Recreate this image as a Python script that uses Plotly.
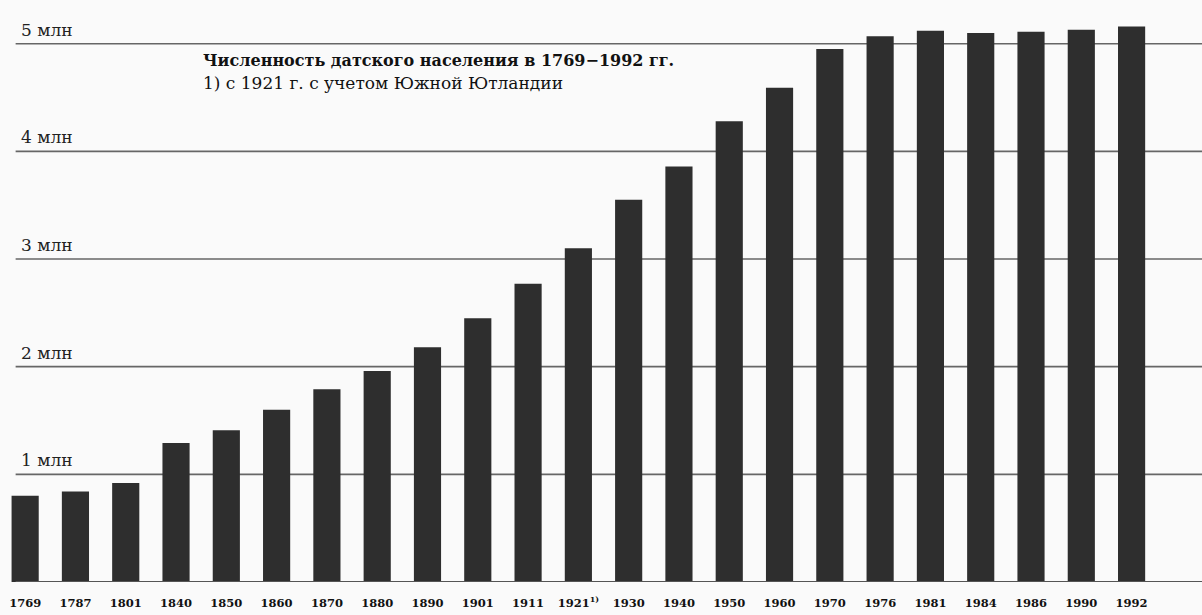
import plotly.graph_objects as go

years = ["1769", "1787", "1801", "1840", "1850", "1860", "1870", "1880", "1890",
         "1901", "1911", "1921", "1930", "1940", "1950", "1960", "1970", "1976",
         "1981", "1984", "1986", "1990", "1992"]
population_mln = [0.80, 0.84, 0.92, 1.29, 1.41, 1.60, 1.79, 1.96, 2.18,
                  2.45, 2.77, 3.10, 3.55, 3.86, 4.28, 4.59, 4.95, 5.07,
                  5.12, 5.10, 5.11, 5.13, 5.16]
tick_labels = [y if y != "1921" else "1921<sup>1)</sup>" for y in years]
grid_values = [1, 2, 3, 4, 5]
grid_labels = ["1 млн", "2 млн", "3 млн", "4 млн", "5 млн"]

title = "Численность датского населения в 1769−1992 гг."
subtitle = "1) с 1921 г. с учетом Южной Ютландии"

fig = go.Figure()
fig.add_trace(go.Bar(x=years, y=population_mln, marker_color="#2e2e2e",
                     marker_line_width=0))

for v, lab in zip(grid_values, grid_labels):
    fig.add_shape(type="line", xref="paper", yref="y", x0=0.013, x1=1, y0=v, y1=v,
                  line=dict(color="#666666", width=1.6), layer="below")
    fig.add_annotation(xref="paper", yref="y", x=0.016, y=v, text=lab,
                       showarrow=False, xanchor="left", yanchor="bottom", yshift=2,
                       font=dict(family="DejaVu Serif", size=17, color="#222"))

fig.add_shape(type="line", xref="paper", yref="y", x0=0.013, x1=1, y0=0, y1=0,
              line=dict(color="#555555", width=1.8))

plot_top, plot_h = 6, 576
fig.add_annotation(xref="paper", yref="paper", x=201/1202, y=1 - (60 - plot_top) / plot_h,
                   text="<b>" + title + "</b>", showarrow=False, xanchor="left",
                   yanchor="middle",
                   font=dict(family="DejaVu Serif", size=16, color="#111"))
fig.add_annotation(xref="paper", yref="paper", x=201/1202, y=1 - (83 - plot_top) / plot_h,
                   text=subtitle, showarrow=False, xanchor="left", yanchor="middle",
                   font=dict(family="DejaVu Serif", size=17, color="#111"))

fig.update_layout(
    width=1202, height=615,
    margin=dict(l=0, r=0, t=plot_top, b=615 - plot_top - plot_h),
    paper_bgcolor="#fafafa", plot_bgcolor="#fafafa",
    bargap=0.46, showlegend=False,
    xaxis=dict(type="category", range=[-0.5, 23.4], tickmode="array",
               tickvals=years, ticktext=tick_labels, showgrid=False,
               showline=False, zeroline=False, ticks="outside", ticklen=10,
               tickcolor="rgba(0,0,0,0)",
               tickfont=dict(family="DejaVu Serif", size=11.5, color="#111",
                             weight="bold")),
    yaxis=dict(range=[0, 5.35], showgrid=False, zeroline=False,
               showticklabels=False, showline=False),
)

fig.write_html("out.html", config={"displayModeBar": False},
               post_script="document.body.style.margin='0';")
